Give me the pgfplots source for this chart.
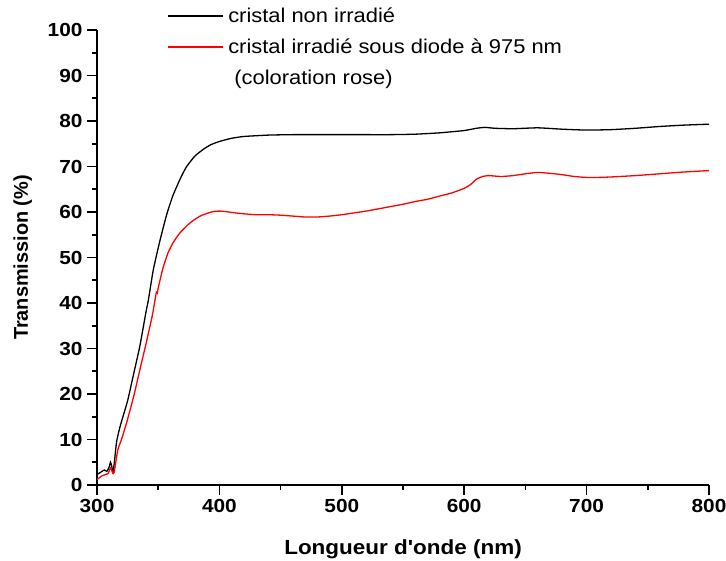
\documentclass[border=0pt]{standalone}
\usepackage{fontspec}
\setmainfont{Liberation Sans}[Ligatures=TeXOff]
\newfontfamily\sfx{Liberation Sans}[FakeStretch=1.1, Ligatures=TeXOff]
\usepackage{pgfplots}
\pgfplotsset{compat=1.18}
\begin{document}
\begin{tikzpicture}
\path[use as bounding box] (0,0) rectangle (726bp,561bp);
\begin{axis}[
  at={(97bp,76bp)}, anchor=south west,
  scale only axis, width=612bp, height=455bp,
  xmin=300, xmax=800, ymin=0, ymax=100,
  axis lines*=left,
  axis line style={line width=1.6bp},
  xtick={300,400,...,800}, ytick={0,10,...,100},
  minor xtick={350,450,...,750}, minor ytick={5,15,...,95},
  tick align=outside,
  major tick length=10bp, minor tick length=5bp,
  every tick/.style={black, line width=1.6bp},
  /pgf/number format/assume math mode=true,
  tick label style={font=\sfx\fontsize{19}{21}\selectfont\bfseries},
  yticklabel style={xshift=-1bp},
  xticklabel style={yshift=-1bp},
  xlabel={Longueur d'onde (nm)}, ylabel={Transmission (\%)},
  xlabel style={font=\sfx\fontsize{20.5}{22}\selectfont\bfseries, yshift=-20bp},
  ylabel style={font=\fontsize{20}{22}\selectfont\bfseries, yshift=9bp},
  clip=false,
  legend style={at={(axis cs:357,105.3)}, anchor=north west, draw=none, fill=none,
    font=\sfx\fontsize{20}{22}\selectfont, row sep=11bp, column sep=3bp, inner sep=0pt},
  legend cell align=left,
  legend image code/.code={\draw[#1] (0bp,0.25bp) -- (55bp,0.25bp);},
]
\addplot[black, line width=1.3bp, smooth, tension=0.3] coordinates {
(300,2.3)(303,2.8)(306,3.3)(308,3.0)(310,4.0)(311,5.0)(312,4.2)(313,2.8)(314,4.5)(316,9.5)(319,13)
(325,18.5)(330,24.5)(335,30.5)(340,38)(342,40.7)(346,47.3)(351.5,53.8)(357,59.5)(362,63.6)
(368,67.3)(373,69.9)(380,72.3)(387,73.8)(393,74.8)(400,75.5)(410,76.2)(420,76.6)
(440,76.9)(460,77)(480,77)(500,77)(520,77)(540,77)(560,77.1)(580,77.4)(600,77.9)(610,78.4)
(617,78.6)(625,78.4)(640,78.3)(660,78.5)(680,78.2)(700,78)(720,78.1)(740,78.4)(760,78.8)(780,79.1)(800,79.3)
};
\addlegendentry{cristal non irradié}
\addplot[red, line width=1.3bp, smooth, tension=0.3] coordinates {
(300,1.2)(304,2)(307,2.3)(309,2.5)(311,3.8)(312,3.2)(313,2.6)(314,2.8)(317,7.7)(320,10)(324,13.5)
(330,19.5)(335,25.3)(340,31)(345,37)(347,40)(348.5,42.4)(349.3,42.2)(350,43.3)(354,47.8)(358,51)
(362,53.2)(368,55.5)(376,57.6)(380,58.4)(385,59.2)(390,59.7)(395,60.1)(400,60.2)(405,60.1)
(410,59.9)(420,59.6)(430,59.4)(440,59.4)(450,59.3)(460,59.1)(470,58.9)(480,58.9)(490,59.1)
(500,59.4)(510,59.8)(520,60.2)(530,60.7)(540,61.2)(550,61.7)(560,62.3)(570,62.8)(580,63.5)
(590,64.2)(600,65.2)(605,66)(610,67.2)(615,67.8)(620,68)(630,67.8)(640,68)(650,68.4)(660,68.7)
(670,68.5)(680,68.2)(690,67.8)(700,67.6)(710,67.6)(720,67.7)(740,68)(760,68.4)(780,68.8)(800,69.1)
};
\addlegendentry{cristal irradié sous diode à 975 nm}
\addlegendimage{empty legend}
\addlegendentry{\ (coloration rose)}
\end{axis}
\end{tikzpicture}
\end{document}
